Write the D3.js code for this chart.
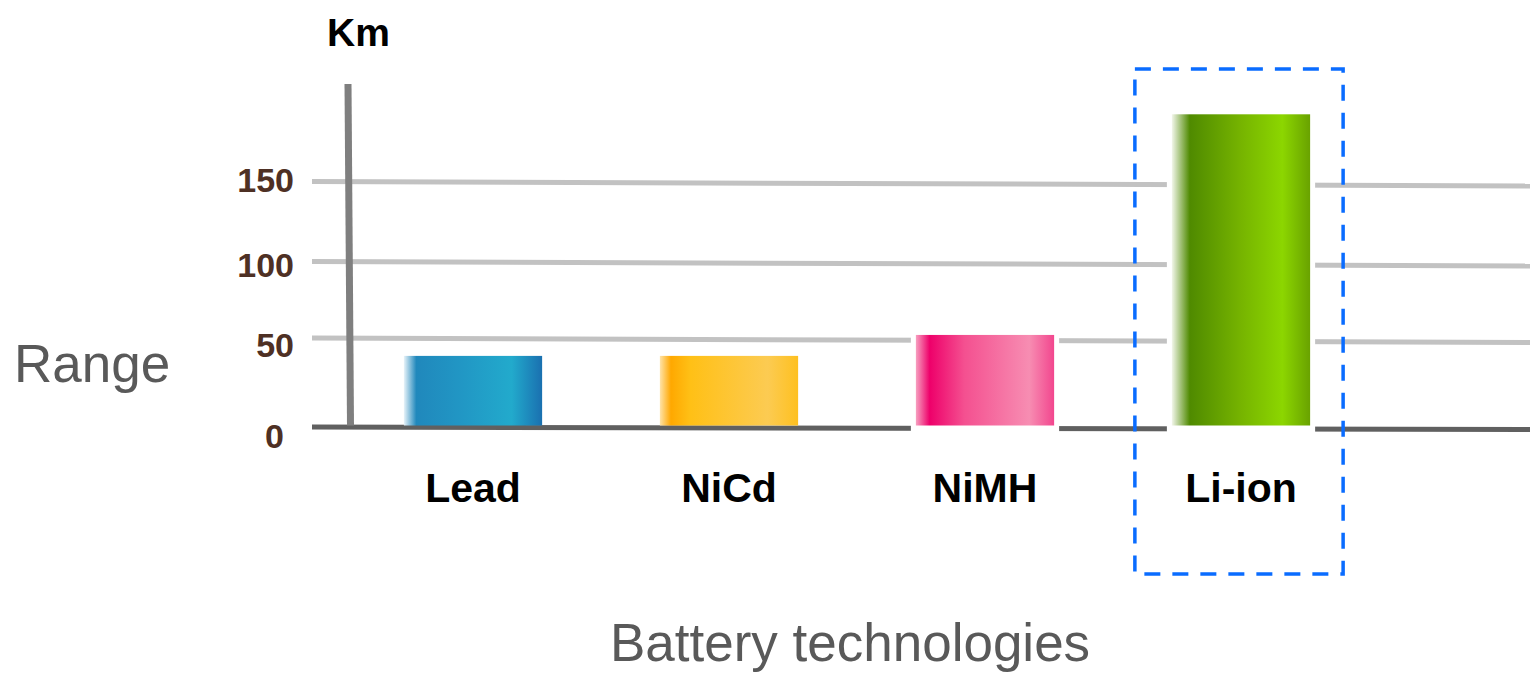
<!DOCTYPE html>
<html>
<head>
<meta charset="utf-8">
<script src="https://cdn.jsdelivr.net/npm/d3@7"></script>
<style>
  body { margin: 0; background: #fff; }
  text { font-family: "Liberation Sans", Arial, sans-serif; }
</style>
</head>
<body>
<svg id="chart" width="1530" height="674"></svg>
<script>
// data
var categories = ["Lead", "NiCd", "NiMH", "Li-ion"];
var rangeKm = [40, 40, 52, 192];
var tickValues = [0, 50, 100, 150];
var gridValues = [50, 100, 150];

// gradient stops for each bar (left to right)
var barStops = [
  [["0%", "#e8f3f9"], ["9%", "#2088bc"], ["40%", "#2196c4"], ["78%", "#22aacc"], ["100%", "#1a70b0"]],
  [["0%", "#ffe3a8"], ["8%", "#ffa800"], ["22%", "#ffc016"], ["78%", "#fccb52"], ["100%", "#fec020"]],
  [["0%", "#f7a0c0"], ["10%", "#ee006a"], ["35%", "#f45090"], ["82%", "#f78db2"], ["100%", "#f2468e"]],
  [["0%", "#f2f6ea"], ["13%", "#4f8a00"], ["50%", "#76b400"], ["80%", "#8cd600"], ["100%", "#69a200"]]
];

var svg = d3.select("#chart");
var W = 1530;

// hand drawn slide: the gridlines are not evenly spaced
var y = d3.scaleLinear()
  .domain(tickValues)
  .range([427.5, 338, 261.5, 181.5]);

var labelY = d3.scaleLinear()
  .domain(tickValues)
  .range([436, 344.5, 265, 180]);

var x = d3.scaleBand()
  .domain(categories)
  .range([345, 1369])
  .paddingInner(0.46)
  .paddingOuter(0.23);

var defs = svg.append("defs");
categories.forEach(function(c, i) {
  var g = defs.append("linearGradient")
    .attr("id", "grad" + i)
    .attr("x1", "0%").attr("x2", "100%")
    .attr("y1", "0%").attr("y2", "0%");
  barStops[i].forEach(function(s) {
    g.append("stop").attr("offset", s[0]).attr("stop-color", s[1]);
  });
});

var lineLeft = 312;
var tilt = 4.5;

// gridlines
svg.append("g").selectAll("line")
  .data(gridValues)
  .enter().append("line")
  .attr("x1", lineLeft)
  .attr("x2", W)
  .attr("y1", function(d) { return y(d); })
  .attr("y2", function(d) { return y(d) + tilt; })
  .attr("stroke", "#c2c2c2")
  .attr("stroke-width", 5);

// baseline
svg.append("line")
  .attr("x1", lineLeft).attr("x2", W)
  .attr("y1", y(0) - 0.5).attr("y2", y(0) + 2)
  .attr("stroke", "#606060")
  .attr("stroke-width", 5);

// y axis line
svg.append("line")
  .attr("x1", 348).attr("x2", 350.5)
  .attr("y1", 84).attr("y2", y(0) - 2)
  .attr("stroke", "#7f7f7f")
  .attr("stroke-width", 7);

// white gaps cut into the lines around the taller bars
svg.append("g").selectAll("rect")
  .data(categories.filter(function(c, i) { return i >= 2; }))
  .enter().append("rect")
  .attr("x", function(d) { return x(d) - 5; })
  .attr("width", x.bandwidth() + 10)
  .attr("y", function(d) { return y(rangeKm[categories.indexOf(d)]) - 5; })
  .attr("height", function(d) { return y(0) - y(rangeKm[categories.indexOf(d)]) + 12; })
  .attr("fill", "#fff");

// bars
svg.append("g").selectAll("rect")
  .data(categories)
  .enter().append("rect")
  .attr("x", function(d) { return x(d); })
  .attr("width", x.bandwidth())
  .attr("y", function(d, i) { return y(rangeKm[i]); })
  .attr("height", function(d, i) { return y(0) - 2 - y(rangeKm[i]); })
  .attr("fill", function(d, i) { return "url(#grad" + i + ")"; });

// tick labels
svg.append("g").selectAll("text")
  .data(tickValues)
  .enter().append("text")
  .attr("x", function(d) { return d === 0 ? 284 : 294; })
  .attr("y", function(d) { return labelY(d); })
  .attr("dy", "0.36em")
  .attr("text-anchor", "end")
  .attr("font-size", 34)
  .attr("font-weight", "bold")
  .attr("fill", "#4e3024")
  .text(function(d) { return d; });

// category labels
svg.append("g").selectAll("text")
  .data(categories)
  .enter().append("text")
  .attr("x", function(d) { return x(d) + x.bandwidth() / 2; })
  .attr("y", 502)
  .attr("text-anchor", "middle")
  .attr("font-size", 41)
  .attr("font-weight", "bold")
  .attr("fill", "#000")
  .text(function(d) { return d; });

// unit
svg.append("text")
  .attr("x", 327).attr("y", 46)
  .attr("font-size", 39)
  .attr("font-weight", "bold")
  .attr("fill", "#000")
  .text("Km");

// axis titles
svg.append("text")
  .attr("x", 14).attr("y", 382)
  .attr("font-size", 53)
  .attr("fill", "#595959")
  .text("Range");

svg.append("text")
  .attr("x", 850).attr("y", 661)
  .attr("text-anchor", "middle")
  .attr("font-size", 53)
  .attr("fill", "#595959")
  .text("Battery technologies");

// dashed highlight box around Li-ion
var hl = "Li-ion";
svg.append("rect")
  .attr("x", x(hl) - 37)
  .attr("y", 69)
  .attr("width", x.bandwidth() + 70)
  .attr("height", 505)
  .attr("fill", "none")
  .attr("stroke", "#0a6cff")
  .attr("stroke-width", 3.5)
  .attr("stroke-dasharray", "16,12");
</script>
</body>
</html>
